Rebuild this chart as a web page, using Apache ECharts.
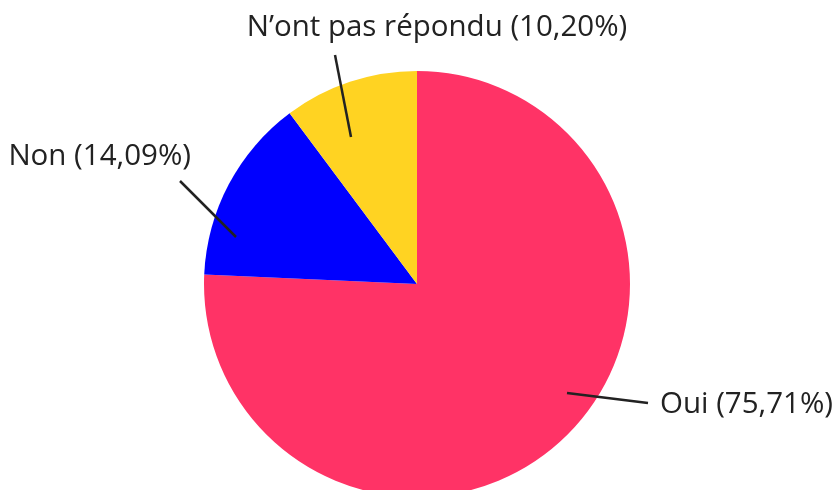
<!DOCTYPE html>
<html>
<head>
<meta charset="utf-8">
<script src="https://cdn.jsdelivr.net/npm/echarts@6/dist/echarts.min.js"></script>
<style>html,body{margin:0;padding:0;background:#fff}#c{width:834px;height:490px}</style>
</head>
<body>
<div id="c"></div>
<script>
var categories = ["Oui", "Non", "N\u2019ont pas répondu"];
var values = [75.71, 14.09, 10.20];
var colors = ["#FF3366", "#0000FF", "#FFD322"];

var CX = 417, CY = 284, R = 213;
// label placement: [lineStartDx, lineStartDy, lineEndDx, lineEndDy, labelX, labelY, align]
var labelSpecs = [
  [150, 109, 231, 119, 660, 405, "left"],
  [-181, -47, -237, -103, 191, 157, "right"],
  [-66, -147, -82, -229, 437, 28, "center"]
];

var chart = echarts.init(document.getElementById('c'), null, {renderer: 'canvas'});
chart.setOption({
  animation: false,
  graphic: labelSpecs.map(function (s) {
    return {
      type: 'line', z: 100,
      shape: {x1: CX + s[0], y1: CY + s[1], x2: CX + s[2], y2: CY + s[3]},
      style: {stroke: '#222222', lineWidth: 2.5}
    };
  }),
  series: [{
    type: 'pie',
    center: [CX, CY],
    radius: [0, R],
    startAngle: 90,
    clockwise: true,
    avoidLabelOverlap: false,
    data: categories.map(function (n, i) {
      return {name: n, value: values[i], itemStyle: {color: colors[i]}};
    }),
    label: {
      show: true,
      position: 'outside',
      fontFamily: 'Open Sans',
      fontSize: 29.5,
      color: '#222222',
      formatter: function (p) {
        return p.name + ' (' + p.value.toFixed(2).replace('.', ',') + '%)';
      }
    },
    labelLine: {show: false},
    emphasis: {disabled: true},
    labelLayout: function (params) {
      var s = labelSpecs[params.dataIndex];
      return {x: s[4], y: s[5], align: s[6], verticalAlign: 'middle'};
    }
  }]
});
</script>
</body>
</html>
